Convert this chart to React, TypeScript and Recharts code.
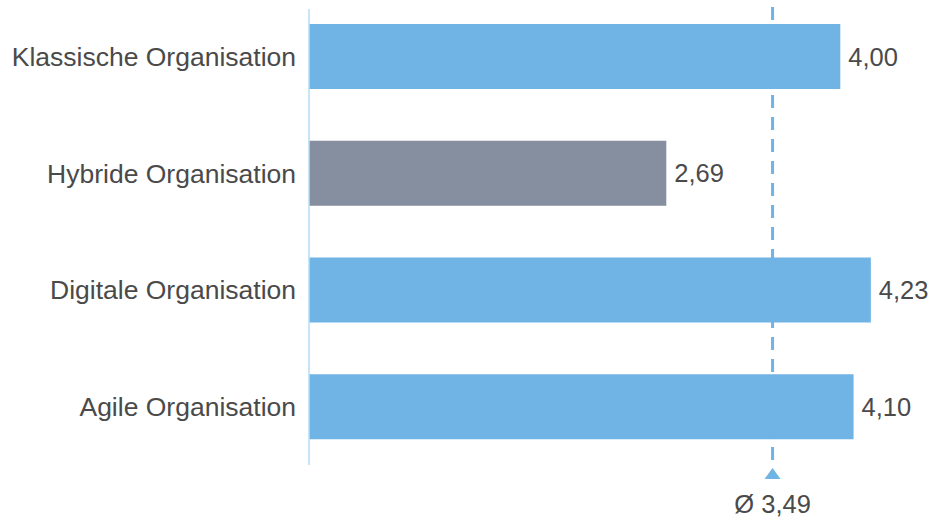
import { BarChart, Bar, XAxis, YAxis, Cell, LabelList, ReferenceLine } from 'recharts';

const categories = ['Klassische Organisation', 'Hybride Organisation', 'Digitale Organisation', 'Agile Organisation'];
const scores = [4.0, 2.69, 4.23, 4.1];
const average = 3.49;
const highlighted = 'Hybride Organisation';

const data = categories.map((name, i) => ({ name, score: scores[i] }));

const BLUE = '#70b3e5';
const GREY = '#868f9f';
const TEXT = '#4a4a4a';
const FONT = '"Liberation Sans", Arial, sans-serif';

const fmt = (v: any) => Number(v).toFixed(2).replace('.', ',');

// axis line starts a bit below the top of the plot, like in the original
const AxisLine = (props: any) => {
  const top = Math.min(props.y1, props.y2);
  const bottom = Math.max(props.y1, props.y2);
  return <line x1={props.x1} x2={props.x1} y1={top + 11} y2={bottom} stroke="#b5dcf7" strokeWidth={1.5} />;
};

// dashed average line + little triangle + label under the plot
const AvgMarker = (props: any) => {
  const x = props.x1;
  const top = Math.min(props.y1, props.y2);
  const bottom = Math.max(props.y1, props.y2);
  return (
    <g>
      <line x1={x} x2={x} y1={top + 9} y2={bottom} stroke={BLUE} strokeWidth={3} strokeDasharray="13 9" />
      <path d={`M${x},${bottom + 3} L${x + 8},${bottom + 14} L${x - 8},${bottom + 14} Z`} fill={BLUE} />
      <text x={x} y={bottom + 48} textAnchor="middle" fill={TEXT} fontSize={25.5} fontFamily={FONT}>
        {'Ø ' + fmt(average)}
      </text>
    </g>
  );
};

export default function App() {
  return (
    <div style={{ position: 'absolute', left: 0, top: 0 }}>
      <BarChart
        width={930}
        height={520}
        data={data}
        layout="vertical"
        margin={{ top: -2, right: 10, bottom: 55, left: 0 }}
        barSize={65}
      >
        <XAxis type="number" domain={[0, 4.6]} hide />
        <YAxis
          type="category"
          dataKey="name"
          width={309}
          axisLine={false}
          tickLine={false}
          tickSize={0}
          tickMargin={13}
          tick={{ fill: TEXT, fontSize: 26.5, fontFamily: FONT }}
        />
        <ReferenceLine x={average} shape={AvgMarker} ifOverflow="visible" />
        <Bar dataKey="score" isAnimationActive={false}>
          {data.map((d) => (
            <Cell key={d.name} fill={d.name === highlighted ? GREY : BLUE} />
          ))}
          <LabelList dataKey="score" position="right" offset={8} formatter={fmt} fill={TEXT} fontSize={25.5} fontFamily={FONT} />
        </Bar>
        <ReferenceLine x={0} shape={AxisLine} ifOverflow="visible" />
      </BarChart>
    </div>
  );
}
